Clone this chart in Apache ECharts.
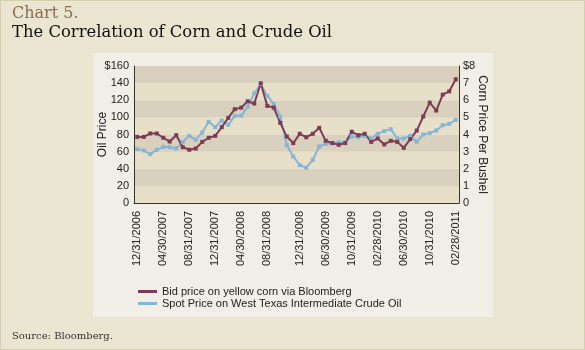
<!DOCTYPE html>
<html lang="en">

<head>
    <meta charset="UTF-8">
    <title>Chart 5. The Correlation of Corn and Crude Oil</title>
    <style media="screen">
        html, body {
            margin: 0;
            padding: 0;
            background: #e9e5d1;
        }

        #chart {
            width: 585px;
            height: 350px;
        }
    </style>
</head>

<body>
    <div id="chart"></div>

    <script src="https://cdn.jsdelivr.net/npm/echarts@6.0.0/dist/echarts.min.js"></script>
    <script>
        // tick labels shown under the x axis (evenly spread over the points)
        var tickLabels = ['12/31/2006', '04/30/2007', '08/31/2007', '12/31/2007', '04/30/2008', '08/31/2008',
            '12/31/2008', '06/30/2009', '10/31/2009', '02/28/2010', '06/30/2010', '10/31/2010', '02/28/2011'];

        // Bid price on yellow corn, $ per bushel (right axis)
        var corn = [3.86, 3.86, 4.06, 4.06, 3.81, 3.59, 3.96, 3.26, 3.11, 3.18,
            3.57, 3.81, 3.92, 4.43, 4.97, 5.48, 5.57, 5.94, 5.81, 6.99,
            5.67, 5.57, 4.68, 3.88, 3.50, 4.04, 3.84, 4.04, 4.39, 3.63,
            3.50, 3.40, 3.50, 4.16, 3.96, 4.04, 3.57, 3.77, 3.42, 3.63,
            3.57, 3.22, 3.73, 4.23, 5.05, 5.86, 5.40, 6.33, 6.52, 7.22];

        // WTI spot price, $ per barrel (left axis)
        var oil = [62.9, 61.4, 57.1, 62.1, 65.6, 65.2, 63.7, 71.1, 78.4, 73.8,
            82.3, 94.8, 88.5, 96.3, 91.3, 101.7, 102, 112.6, 128.2, 139,
            125, 115.7, 101, 67.6, 54.4, 44.3, 41.2, 50.5, 66, 69.1,
            69.9, 70.7, 70.7, 77.7, 76.9, 78.4, 75.3, 80.8, 83.9, 86.2,
            75.3, 75.3, 78.4, 71.5, 80, 81.6, 84.7, 90.9, 92.4, 97.1];

        var oilTicks = [0, 20, 40, 60, 80, 100, 120, 140, 160];
        var cornTicks = [0, 1, 2, 3, 4, 5, 6, 7, 8];

        var cornName = 'Bid price on yellow corn via Bloomberg';
        var oilName = 'Spot Price on West Texas Intermediate Crude Oil';

        (function initChart() {
            var myChart = echarts.init(document.getElementById('chart'), null, { renderer: 'canvas' });

            var n = corn.length;
            var cats = [];
            var labelAt = {};
            for (var i = 0; i < n; i++) {
                cats.push(String(i));
            }
            for (var j = 0; j < tickLabels.length; j++) {
                labelAt[Math.round(j * (n - 1) / (tickLabels.length - 1))] = tickLabels[j];
            }

            var sans = '"Liberation Sans", Arial, sans-serif';
            var serif = '"DejaVu Serif", Georgia, serif';

            var options = {
                animation: false,
                backgroundColor: '#e9e5d1',

                graphic: [{
                        type: 'rect',
                        shape: { x: 0.5, y: 0.5, width: 584, height: 349 },
                        style: { fill: 'none', stroke: '#d4cfae', lineWidth: 1 },
                        z: -10
                    },
                    {
                        type: 'rect',
                        shape: { x: 93, y: 53, width: 400, height: 264 },
                        style: { fill: '#f1eee8' },
                        z: -10
                    },
                    {
                        type: 'text',
                        left: 12,
                        top: 6,
                        style: { text: 'Chart 5.', font: '16px ' + serif, fill: '#8c6d4f' }
                    },
                    {
                        type: 'text',
                        left: 12,
                        top: 25,
                        style: { text: 'The Correlation of Corn and Crude Oil', font: '16.4px ' + serif, fill: '#111' }
                    },
                    {
                        type: 'text',
                        left: 12,
                        top: 331,
                        style: { text: 'Source: Bloomberg.', font: '10px ' + serif, fill: '#333' }
                    }
                ],

                grid: {
                    left: 134,
                    right: 126,
                    top: 66,
                    bottom: 147
                },

                legend: {
                    orient: 'vertical',
                    left: 133,
                    top: 281,
                    itemWidth: 19,
                    itemHeight: 3,
                    itemGap: 1,
                    icon: 'rect',
                    data: [cornName, oilName],
                    textStyle: {
                        fontFamily: sans,
                        fontSize: 11,
                        color: '#222'
                    }
                },

                xAxis: [{
                    type: 'category',
                    data: cats,
                    boundaryGap: true,
                    axisLine: { lineStyle: { color: '#333', width: 1 } },
                    axisTick: { show: false },
                    axisLabel: {
                        rotate: 90,
                        margin: 8,
                        fontFamily: sans,
                        fontSize: 11,
                        color: '#222',
                        interval: function(index) {
                            return labelAt.hasOwnProperty(index);
                        },
                        formatter: function(v) {
                            return labelAt[+v] || '';
                        }
                    }
                }],

                yAxis: [{
                        type: 'value',
                        min: oilTicks[0],
                        max: oilTicks[oilTicks.length - 1],
                        interval: oilTicks[1] - oilTicks[0],
                        name: 'Oil Price',
                        nameLocation: 'middle',
                        nameGap: 25,
                        nameMoveOverlap: false,
                        nameTextStyle: { fontFamily: sans, fontSize: 12, color: '#222' },
                        axisLine: { show: true, lineStyle: { color: '#333' } },
                        axisTick: { show: false },
                        splitLine: { show: false },
                        splitArea: {
                            show: true,
                            areaStyle: { color: ['#e8dfc9', '#d9d0bd'] }
                        },
                        axisLabel: {
                            margin: 5,
                            fontFamily: sans,
                            fontSize: 11,
                            color: '#222',
                            formatter: function(v) {
                                return v === oilTicks[oilTicks.length - 1] ? '$' + v : v;
                            }
                        }
                    },
                    {
                        type: 'value',
                        min: cornTicks[0],
                        max: cornTicks[cornTicks.length - 1],
                        interval: cornTicks[1] - cornTicks[0],
                        name: 'Corn Price Per Bushel',
                        nameLocation: 'middle',
                        nameGap: 17,
                        nameRotate: -90,
                        nameMoveOverlap: false,
                        nameTextStyle: { fontFamily: sans, fontSize: 12, color: '#222' },
                        axisLine: { show: true, lineStyle: { color: '#333' } },
                        axisTick: { show: false },
                        splitLine: { show: false },
                        axisLabel: {
                            margin: 4,
                            fontFamily: sans,
                            fontSize: 11,
                            color: '#222',
                            formatter: function(v) {
                                return v === cornTicks[cornTicks.length - 1] ? '$' + v : v;
                            }
                        }
                    }
                ],

                series: [{
                        name: oilName,
                        type: 'line',
                        yAxisIndex: 0,
                        data: oil,
                        symbol: 'rect',
                        symbolSize: 4,
                        color: '#86b6d6',
                        lineStyle: { width: 2, color: '#86b6d6' },
                        itemStyle: { color: '#86b6d6' }
                    },
                    {
                        name: cornName,
                        type: 'line',
                        yAxisIndex: 1,
                        data: corn,
                        symbol: 'rect',
                        symbolSize: 4,
                        color: '#7d3c55',
                        lineStyle: { width: 2, color: '#7d3c55' },
                        itemStyle: { color: '#7d3c55' }
                    }
                ]
            };

            myChart.setOption(options, true);
        })();
    </script>
</body>

</html>
